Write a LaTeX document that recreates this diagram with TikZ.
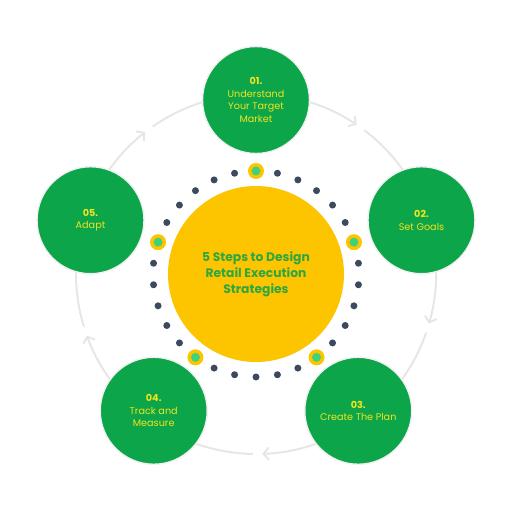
\documentclass[tikz,border=0pt]{standalone}
\usepackage{fontspec}
\setmainfont{Poppins}
\usetikzlibrary{arrows.meta}

\definecolor{stepgreen}{HTML}{0CA54A}
\definecolor{stepyellow}{HTML}{F2E41E}
\definecolor{hubyellow}{HTML}{FDC400}
\definecolor{hubtext}{HTML}{2FA640}
\definecolor{dotdark}{HTML}{3D4A5E}
\definecolor{dotgreen}{HTML}{3ED37A}
\definecolor{ringgray}{HTML}{E6E6E6}

\tikzset{
  stepcircle/.style={circle, fill=stepgreen, draw=black!6, line width=0.8pt,
    minimum size=2.14cm, inner sep=0pt, align=center, text=stepyellow,
    font=\fontsize{5.5}{7.2}\selectfont},
  hubcircle/.style={circle, fill=hubyellow, minimum size=3.52cm, inner sep=0pt,
    align=center, text=hubtext, font=\fontsize{7}{9.1}\selectfont\bfseries},
  ringline/.style={ringgray, line width=1.1pt},
}

\begin{document}
\begin{tikzpicture}
    % Fix the page size
    \fill[white] (0,0) rectangle (10.24,10.24);
    \useasboundingbox (0,0) rectangle (10.24,10.24);

    \coordinate (ctr) at (5.12,4.76);

    % Draw the gray ring with its arrows
    \foreach \k in {0,...,4} {
        \pgfmathsetmacro\a{90-72*\k}
        \draw[ringline,-{Straight Barb[length=3pt,width=7pt]}] ([shift={(\a:3.6)}]ctr)
            arc[start angle=\a, end angle=\a-34, radius=3.6];
        \draw[ringline] ([shift={(\a-37:3.6)}]ctr)
            arc[start angle=\a-37, end angle=\a-72, radius=3.6];
    }

    % Draw the dotted ring round the hub
    \foreach \k in {0,...,4} {
        \foreach \j in {1,...,5} {
            \fill[dotdark] ([shift={(90-72*\k-12*\j:2.06)}]ctr) circle (0.07);
        }
        \fill[hubyellow] ([shift={(90-72*\k:2.06)}]ctr) circle (0.16);
        \fill[dotgreen] ([shift={(90-72*\k:2.06)}]ctr) circle (0.09);
    }

    % Draw the hub
    \node[hubcircle] (hub) at (ctr) {5 Steps to Design\\Retail Execution\\Strategies};

    % Draw the five steps
    \node[stepcircle] (s1) at ([shift={(90:3.48)}]ctr) {\textbf{01.}\\Understand\\Your Target\\Market};
    \node[stepcircle] (s2) at ([shift={(18:3.48)}]ctr) {\textbf{02.}\\Set Goals};
    \node[stepcircle] (s3) at ([shift={(-54:3.48)},yshift=0.08cm]ctr) {\textbf{03.}\\Create The Plan};
    \node[stepcircle] (s4) at ([shift={(-126:3.48)},yshift=0.08cm]ctr) {\textbf{04.}\\Track and\\Measure};
    \node[stepcircle] (s5) at ([shift={(162:3.48)}]ctr) {\textbf{05.}\\Adapt};

\end{tikzpicture}
\end{document}
